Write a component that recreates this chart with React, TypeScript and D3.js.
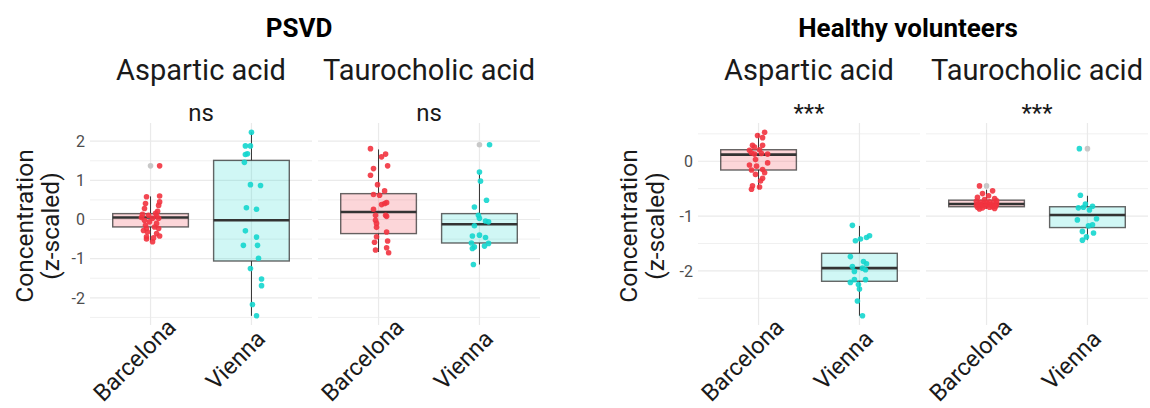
import React, { useEffect, useRef } from "react";
import * as d3 from "d3";

// [z-scaled value, horizontal jitter in category units]
type Pt = [number, number];
type Box = { lo: number; q1: number; med: number; q3: number; hi: number; out: number[] };

const sites = ["Barcelona", "Vienna"];
const metabolites = ["Aspartic acid", "Taurocholic acid"];
const cohorts = ["PSVD", "Healthy volunteers"];
const pLabels = [["ns", "ns"], ["***", "***"]];

// ---- PSVD ----
const psvdAspBarcelona: Pt[] = [
  [1.37, 0.09], [0.6, 0.09], [0.58, -0.04], [0.45, 0.09], [0.41, -0.05], [0.36, 0.08], [0.28, -0.06],
  [0.21, 0.07], [0.16, 0.05], [0.13, -0.08], [0.11, -0.02], [0.09, 0.06], [0.05, -0.09], [0.03, 0.02],
  [0.03, 0.08], [-0.02, -0.06], [-0.06, -0.01], [-0.1, 0.06], [-0.15, -0.05], [-0.19, 0.04], [-0.23, 0.08],
  [-0.23, -0.04], [-0.28, -0.07], [-0.32, -0.03], [-0.36, 0.06], [-0.42, 0.09], [-0.44, -0.04],
  [-0.47, 0.03], [-0.5, -0.04], [-0.57, 0.02],
];
const psvdAspVienna: Pt[] = [
  [2.23, 0.0], [1.88, -0.06], [1.88, -0.01], [1.68, -0.04], [1.66, -0.06], [1.46, -0.07], [0.89, -0.01],
  [0.87, 0.09], [0.3, -0.05], [0.26, 0.05], [-0.29, -0.06], [-0.45, 0.05], [-0.66, -0.08], [-0.66, 0.06],
  [-0.99, 0.07], [-1.25, -0.01], [-1.52, 0.1], [-1.69, 0.1], [-2.17, 0.01], [-2.46, 0.05],
];
const psvdTauBarcelona: Pt[] = [
  [1.81, -0.08], [1.67, 0.07], [1.6, 0.03], [1.37, 0.09], [1.3, -0.05], [1.13, -0.08], [0.89, -0.01],
  [0.73, 0.06], [0.64, -0.05], [0.62, 0.01], [0.43, 0.08], [0.41, 0.06], [0.38, 0.03], [0.26, -0.05],
  [0.11, 0.07], [0.11, -0.03], [0.08, 0.08], [-0.02, -0.03], [-0.1, -0.02], [-0.2, -0.02], [-0.32, 0.08],
  [-0.44, -0.02], [-0.55, 0.09], [-0.58, -0.04], [-0.72, 0.08], [-0.78, -0.03], [-0.85, 0.1],
];
const psvdTauVienna: Pt[] = [
  [1.91, 0.1], [1.21, 0.0], [0.98, 0.01], [0.49, 0.07], [0.32, -0.05], [0.11, -0.01], [0.03, 0.0],
  [-0.04, 0.06], [-0.06, 0.09], [-0.16, -0.05], [-0.4, 0.0], [-0.42, -0.07], [-0.46, 0.06], [-0.6, -0.08],
  [-0.61, 0.09], [-0.68, 0.05], [-0.7, -0.05], [-0.74, -0.07], [-1.15, -0.06],
];
const psvdAspBoxes: Box[] = [
  { lo: -0.57, q1: -0.19, med: 0.05, q3: 0.15, hi: 0.59, out: [1.37] },
  { lo: -2.46, q1: -1.06, med: -0.02, q3: 1.51, hi: 2.23, out: [] },
];
const psvdTauBoxes: Box[] = [
  { lo: -0.83, q1: -0.36, med: 0.19, q3: 0.66, hi: 1.79, out: [] },
  { lo: -1.15, q1: -0.6, med: -0.12, q3: 0.15, hi: 1.19, out: [1.91] },
];

// ---- Healthy volunteers ----
const hvAspBarcelona: Pt[] = [
  [0.53, 0.06], [0.47, -0.01], [0.43, 0.04], [0.29, 0.04], [0.29, -0.06], [0.26, -0.04], [0.21, 0.01],
  [0.2, -0.09], [0.15, -0.07], [0.14, 0.03], [0.13, -0.04], [0.13, 0.09], [0.03, -0.03], [-0.03, 0.09],
  [-0.07, -0.09], [-0.09, -0.02], [-0.15, 0.04], [-0.16, -0.07], [-0.21, 0.06], [-0.24, -0.03],
  [-0.31, 0.04], [-0.36, 0.02], [-0.45, -0.06], [-0.47, 0.01], [-0.51, -0.07],
];
const hvAspVienna: Pt[] = [
  [-1.17, -0.07], [-1.36, 0.1], [-1.39, 0.07], [-1.42, 0.01], [-1.45, -0.04], [-1.74, -0.09],
  [-1.83, 0.04], [-1.87, 0.07], [-1.92, -0.07], [-1.95, 0.03], [-1.98, 0.06], [-2.01, -0.05],
  [-2.16, -0.05], [-2.16, 0.06], [-2.21, -0.09], [-2.25, -0.01], [-2.33, 0.0], [-2.55, -0.02], [-2.82, 0.03],
];
const hvTauBarcelona: Pt[] = [
  [-0.45, -0.07], [-0.54, 0.06], [-0.59, -0.04], [-0.63, 0.02], [-0.66, -0.09], [-0.68, 0.08],
  [-0.7, -0.02], [-0.72, 0.1], [-0.73, -0.1], [-0.74, 0.03], [-0.75, -0.06], [-0.76, 0.07], [-0.76, 0.0],
  [-0.77, -0.03], [-0.78, 0.1], [-0.78, -0.08], [-0.79, 0.02], [-0.8, -0.1], [-0.8, 0.05], [-0.81, -0.05],
  [-0.82, 0.09], [-0.82, -0.01], [-0.83, 0.06], [-0.84, -0.09], [-0.84, 0.03], [-0.85, -0.04],
  [-0.86, 0.08], [-0.87, -0.07],
];
const hvTauVienna: Pt[] = [
  [0.23, -0.08], [-0.62, -0.07], [-0.78, -0.02], [-0.82, 0.05], [-0.84, -0.04], [-0.85, -0.09],
  [-0.89, 0.02], [-1.05, 0.09], [-1.07, -0.1], [-1.16, 0.05], [-1.18, 0.01], [-1.28, -0.05],
  [-1.31, 0.06], [-1.38, -0.01], [-1.44, -0.05],
];
const hvAspBoxes: Box[] = [
  { lo: -0.51, q1: -0.16, med: 0.12, q3: 0.21, hi: 0.51, out: [] },
  { lo: -2.82, q1: -2.19, med: -1.95, q3: -1.68, hi: -1.18, out: [] },
];
const hvTauBoxes: Box[] = [
  { lo: -0.87, q1: -0.83, med: -0.78, q3: -0.71, hi: -0.52, out: [-0.45] },
  { lo: -1.44, q1: -1.21, med: -0.98, q3: -0.83, hi: -0.63, out: [0.23] },
];

const pointColors = ["#F2333F", "#14D6CE"];
const FONT = "Roboto, sans-serif";

const App = () => {
  const svgRef = useRef<SVGSVGElement>(null);

  useEffect(() => {
    document.body.style.margin = "0";
    const svg = d3.select(svgRef.current);
    svg.selectAll("*").remove();

    const data = [
      [
        { pts: [psvdAspBarcelona, psvdAspVienna], boxes: psvdAspBoxes },
        { pts: [psvdTauBarcelona, psvdTauVienna], boxes: psvdTauBoxes },
      ],
      [
        { pts: [hvAspBarcelona, hvAspVienna], boxes: hvAspBoxes },
        { pts: [hvTauBarcelona, hvTauVienna], boxes: hvTauBoxes },
      ],
    ];

    // layout of the two sub-figures
    const figs = [
      { x0: 90, titleX: 299, yTitle: [33, 58.5] },
      { x0: 698, titleX: 908, yTitle: [637, 664] },
    ];
    const facetW = 222, gap = 6;
    const top = 123, bottom = 325;

    figs.forEach((f, fi) => {
      const g = svg.append("g");
      const facets = data[fi];

      // y scale shared by both facets, 5% expansion like ggplot
      const vals: number[] = [];
      facets.forEach(fc => {
        fc.pts.forEach(arr => arr.forEach(p => vals.push(p[0])));
        fc.boxes.forEach(b => vals.push(b.lo, b.hi, ...b.out));
      });
      const [mn, mx] = d3.extent(vals) as [number, number];
      const pad = (mx - mn) * 0.05;
      const y = d3.scaleLinear().domain([mn - pad, mx + pad]).range([bottom, top]);
      const major = y.ticks(5);
      const stepT = major[1] - major[0];
      const minor = [major[0] - stepT / 2, ...major.map(t => t + stepT / 2)]
        .filter(t => t > y.domain()[0] && t < y.domain()[1]);

      facets.forEach((fc, mi) => {
        const px0 = f.x0 + mi * (facetW + gap);
        const x = d3.scalePoint<string>().domain(sites).range([px0, px0 + facetW]).padding(0.6);
        const step = x.step();

        // grid
        g.selectAll(null).data(minor).join("line")
          .attr("x1", px0).attr("x2", px0 + facetW)
          .attr("y1", d => y(d)).attr("y2", d => y(d))
          .attr("stroke", "#F0F0F0").attr("stroke-width", 1);
        g.selectAll(null).data(major).join("line")
          .attr("x1", px0).attr("x2", px0 + facetW)
          .attr("y1", d => y(d)).attr("y2", d => y(d))
          .attr("stroke", "#EAEAEA").attr("stroke-width", 1.2);
        g.selectAll(null).data(sites).join("line")
          .attr("x1", d => x(d)!).attr("x2", d => x(d)!)
          .attr("y1", top).attr("y2", bottom)
          .attr("stroke", "#EAEAEA").attr("stroke-width", 1.2);

        // y tick labels on the first facet
        if (mi === 0) {
          g.selectAll(null).data(major).join("text")
            .attr("x", px0 - 5).attr("y", d => y(d))
            .attr("dy", "0.36em")
            .attr("text-anchor", "end")
            .style("font-family", FONT).style("font-size", "16px")
            .attr("fill", "#4D4D4D")
            .text(d => (d < 0 ? "-" + Math.abs(d) : String(d)));
        }

        // strip + significance label
        g.append("text")
          .attr("x", px0 + facetW / 2).attr("y", 80)
          .attr("text-anchor", "middle")
          .style("font-family", FONT).style("font-size", "29px")
          .attr("fill", "#1A1A1A")
          .text(metabolites[mi]);
        g.append("text")
          .attr("x", px0 + facetW / 2).attr("y", 121)
          .attr("text-anchor", "middle")
          .style("font-family", FONT).style("font-size", "24px")
          .attr("fill", "#1A1A1A")
          .text(pLabels[fi][mi]);

        // boxplots
        fc.boxes.forEach((b, si) => {
          const cx = x(sites[si])!;
          const hw = step * 0.375;
          g.append("line").attr("x1", cx).attr("x2", cx).attr("y1", y(b.q3)).attr("y2", y(b.hi))
            .attr("stroke", "#333").attr("stroke-width", 1);
          g.append("line").attr("x1", cx).attr("x2", cx).attr("y1", y(b.q1)).attr("y2", y(b.lo))
            .attr("stroke", "#333").attr("stroke-width", 1);
          g.append("rect")
            .attr("x", cx - hw).attr("width", hw * 2)
            .attr("y", y(b.q3)).attr("height", y(b.q1) - y(b.q3))
            .attr("fill", pointColors[si]).attr("fill-opacity", 0.2)
            .attr("stroke", "#333").attr("stroke-opacity", 0.75).attr("stroke-width", 1.4);
          g.append("line").attr("x1", cx - hw).attr("x2", cx + hw).attr("y1", y(b.med)).attr("y2", y(b.med))
            .attr("stroke", "#333").attr("stroke-width", 2.6);
          g.selectAll(null).data(b.out).join("circle")
            .attr("cx", cx).attr("cy", d => y(d)).attr("r", 2.8)
            .attr("fill", "#C8C8C8");
        });

        // jittered points
        fc.pts.forEach((arr, si) => {
          const cx = x(sites[si])!;
          g.selectAll(null).data(arr).join("circle")
            .attr("cx", d => cx + d[1] * step).attr("cy", d => y(d[0])).attr("r", 2.8)
            .attr("fill", pointColors[si]).attr("fill-opacity", 0.9);
        });

        // rotated x labels
        sites.forEach(s => {
          g.append("text")
            .attr("transform", `translate(${x(s)! - 16},360) rotate(-45)`)
            .attr("text-anchor", "middle")
            .attr("dominant-baseline", "central")
            .style("font-family", FONT).style("font-size", "23.5px")
            .attr("fill", "#1A1A1A")
            .text(s);
        });
      });

      // title
      g.append("text")
        .attr("x", f.titleX).attr("y", 37)
        .attr("text-anchor", "middle")
        .style("font-family", FONT).style("font-size", "26px").style("font-weight", "bold")
        .attr("fill", "#000")
        .text(cohorts[fi]);

      // y-axis title (two lines)
      ["Concentration", "(z-scaled)"].forEach((t, li) => {
        g.append("text")
          .attr("transform", `translate(${f.yTitle[li]},226) rotate(-90)`)
          .attr("text-anchor", "middle")
          .style("font-family", FONT).style("font-size", "24.5px")
          .attr("fill", "#1A1A1A")
          .text(t);
      });
    });
  }, []);

  return (
    <svg ref={svgRef} width={1150} height={408} style={{ display: "block", background: "#fff" }} />
  );
};

export default App;
